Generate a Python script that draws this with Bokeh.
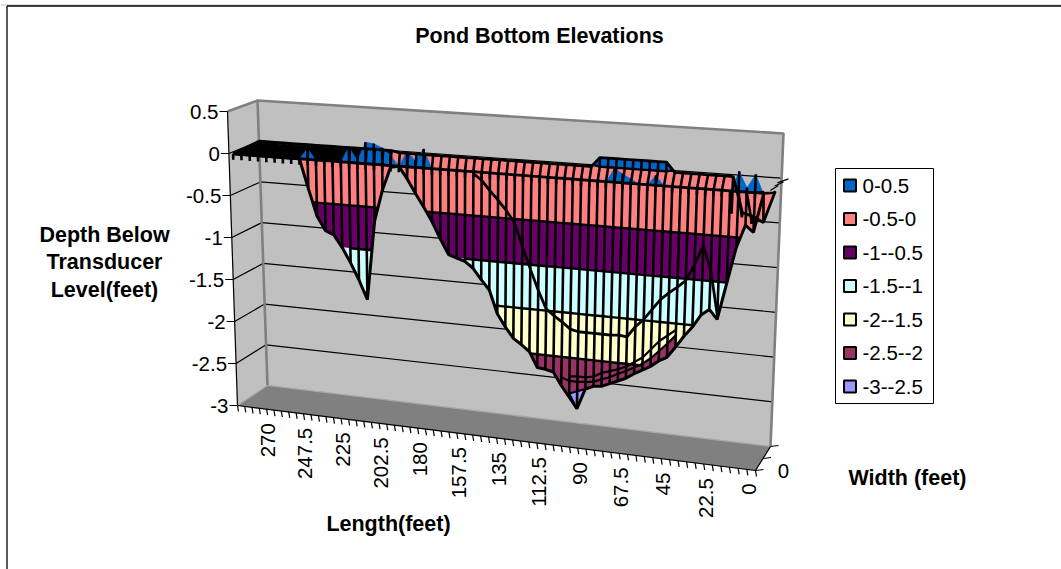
import math
from bokeh.plotting import figure
from bokeh.models import Range1d, ColumnDataSource
from bokeh.core.properties import value
from bokeh.embed import file_html
from bokeh.resources import INLINE

N = float("nan")
title = "Pond Bottom Elevations"
y_title = ["Depth Below", "Transducer", "Level(feet)"]
x_title = "Length(feet)"
z_title = "Width (feet)"
band_names = ["0-0.5", "-0.5-0", "-1--0.5", "-1.5--1", "-2--1.5", "-2.5--2", "-3--2.5"]
band_low = [0, -0.5, -1, -1.5, -2, -2.5, -3]
band_colors = ["#0066CC", "#FF8080", "#660066", "#CCFFFF", "#FFFFCC", "#993366", "#9999FF"]
depth_ticks = [0.5, 0, -0.5, -1, -1.5, -2, -2.5, -3]
length_labels = ["270", "247.5", "225", "202.5", "180", "157.5", "135", "112.5", "90", "67.5", "45", "22.5", "0"]
length_label_values = [270, 247.5, 225, 202.5, 180, 157.5, 135, 112.5, 90, 67.5, 45, 22.5, 0]

lengths = [288, 283.5, 279, 274.5, 270, 265.5, 261, 256.5, 252, 247.5, 243, 238.5, 234, 229.5, 225, 220.5,
           216, 211.5, 207, 202.5, 198, 193.5, 189, 184.5, 180, 175.5, 171, 166.5, 162, 157.5, 153, 148.5,
           144, 139.5, 135, 130.5, 126, 121.5, 117, 112.5, 108, 103.5, 99, 94.5, 90, 85.5, 81, 76.5,
           72, 67.5, 63, 58.5, 54, 49.5, 45, 40.5, 36, 31.5, 27, 22.5, 18, 13.5, 9, 4.5, 0]

depth_far = [0, 0, 0, 0, 0, 0, 0, 0, 0, 0, 0, 0, 0, 0, 0, 0, 0, 0, 0, 0,
             -.02, -.02, -.02, -.02, -.02, -.02, -.02, -.02, -.02, -.02, -.02, -.02, -.02, -.02, -.02, -.02,
             -.02, -.02, -.02, -.02, -.02, -.02, -.02, -.02, .09, .09, .09, .09, .09, .09, .09, .09, .09,
             -.02, -.02, -.02, -.02, -.02, -.02, -.02, -.02, -.42, -.45, -.51, -.15]
depth_far2 = [0, 0, 0, 0, 0, 0, 0, 0, 0, 0, 0, 0, 0, 0, 0, 0, 0, 0, 0, 0,
              -.02, -.02, -.02, -.02, -.02, -.02, -.02, -.02, -.02, -.02, -.02, -.02, -.02, -.02, -.02, -.02,
              -.02, -.02, -.02, -.02, -.02, -.02, -.02, -.02, -.02, -.02, -.02, -.02, -.02, -.02, -.02, -.02,
              -.02, -.02, -.02, -.02, -.02, -.02, -.02, -.02, -.42, -.45, -.51, -.15, -.15]
depth_rim = [0, 0, 0, 0, 0, 0, 0, 0, 0, .13, 0, 0, 0, 0, .18, .03, .25, .24, .2, .12,
             0, .18, .08, .22, 0, 0, 0, 0, 0, 0, 0, 0, 0, 0, 0, 0,
             0, 0, 0, 0, 0, 0, 0, 0, 0, 0, .15, .10, .05, 0, 0, .11,
             0, 0, 0, 0, 0, 0, 0, 0, 0, .22, .05, .2, 0]
depth_trough = [0, 0, 0, 0, 0, 0, 0, 0, 0, -.34, -.66, -.82, -.86, -1.0, -1.17, -1.36, -1.58, -.66, -.29, -.02,
                0, -.14, -.30, -.45, -.61, -.80, -.97, -1.0, -1.03, -1.10, -1.22, -1.33, -1.59, -1.73, -1.85, -1.91,
                -1.98, -2.15, -2.16, -2.18, -2.32, -2.44, -2.56, -2.33, -2.29, -2.28, -2.24, -2.20, -2.16, -2.10, -2.05, -2.0,
                -1.93, -1.88, -1.76, -1.63, -1.52, -1.38, -1.31, -1.41, -1.01, -.61, -.36, -.43, -.02]
depth_inner = [N, N, N, N, N, N, N, N, N, N, N, N, N, N, N, N, N, N, N, N,
               N, N, N, N, N, N, N, N, N, -.02, -.09, -.20, -.30, -.41, -.54, -.80,
               -1.05, -1.28, -1.48, -1.55, -1.61, -1.68, -1.70, -1.70, -1.70, -1.70, -1.70, -1.69, -1.70, -1.58, -1.49, -1.37,
               -1.25, -1.17, -1.10, -1.02, -.84, -.62, -.88, -1.36, N, N, N, N, N]
depth_mesh_a = [N, N, N, N, N, N, N, N, N, N, N, N, N, N, N, N, N, N, N, N,
                N, N, N, N, N, N, N, N, N, N, N, N, N, N, N, N,
                N, N, N, N, -2.23, -2.26, -2.26, -2.25, -2.24, -2.20, -2.17, -2.12, -2.08, -2.03, -1.98, -1.91,
                -1.82, -1.73, -1.63, N, N, N, N, N, N, N, N, N, N]
depth_mesh_b = [N, N, N, N, N, N, N, N, N, N, N, N, N, N, N, N, N, N, N, N,
                N, N, N, N, N, N, N, N, N, N, N, N, N, N, N, N,
                N, N, N, N, N, -2.21, -2.20, -2.20, -2.18, -2.13, -2.10, -2.07, -2.03, -1.97, -1.91, -1.81,
                -1.71, -1.64, -1.57, N, N, N, N, N, N, N, N, N, N]
tip_lengths = [103.5, 99, 94.5]
tip_depths = [-2.40, -2.56, -2.33]
row_far, row_far2, row_rim = 1.0, 0.9, 0.0

C = {(0, 0, 0): (237, 405), (1, 0, 0): (755, 470), (0, 1, 0): (267, 385), (1, 1, 0): (770, 446),
     (0, 0, 1): (227, 111), (1, 0, 1): (769, 147), (0, 1, 1): (257, 100), (1, 1, 1): (783, 133)}
NCOL = len(lengths)


def box(u, v, h):
    x = y = 0.0
    for (a, b, c), (px, py) in C.items():
        w = (u if a else 1 - u) * (v if b else 1 - v) * (h if c else 1 - h)
        x += w * px
        y += w * py
    return x, y


def proj(L, v, z):
    # rows deeper in the box keep the screen column of the rim, as the stripes do in the picture
    u = (288 + 2.25 - L) / (NCOL * 4.5)
    if v > 0:
        target = 228.4 + 538.6 * u + max(0.0, u - 0.93) * 150
        uf = max(0.0, (target - 258) / 520)
        u = u + (uf - u) * v
    return box(u, v, (z + 3) / 3.5)


def axis_u(t):
    # the length axis gets slightly longer steps towards the viewer
    return t - 0.092 * t * (1 - t)


def clip(poly, level, keep_above):
    out = []
    n = len(poly)
    for k in range(n):
        a, b = poly[k], poly[(k + 1) % n]
        ia = a[2] >= level if keep_above else a[2] <= level
        ib = b[2] >= level if keep_above else b[2] <= level
        if ia:
            out.append(a)
        if ia != ib:
            t = (level - a[2]) / (b[2] - a[2])
            out.append(tuple(a[j] + t * (b[j] - a[j]) for j in range(3)))
    return out


p = figure(width=1061, height=569, output_backend="svg", toolbar_location=None,
           x_range=Range1d(0, 1061), y_range=Range1d(569, 0),
           x_axis_location=None, y_axis_location=None, min_border=0,
           outline_line_color=None)
p.grid.visible = False
p.background_fill_color = "white"

FONT = value("Liberation Sans")


def label(x, y, txt, size="20.5px", bold=False, align="center", base="middle", angle=0.0):
    p.text([x], [y], text=[txt], text_font=FONT, text_font_size="21.5px" if bold else size,
           text_font_style="bold" if bold else "normal", text_align=align,
           text_baseline=base, text_color="black", angle=angle)


# frame
p.line([0, 1061], [4.5, 4.5], line_color="#c0c0c0", line_width=1)
p.line([6.5, 1061], [5.5, 5.5], line_color="black", line_width=1.3)
p.line([6.5, 6.5], [5.5, 569], line_color="black", line_width=1.3)


def corner(a, b, c):
    return C[(a, b, c)]


def face(pts, color):
    p.patch([q[0] for q in pts], [q[1] for q in pts], fill_color=color, line_color=color, line_width=0.5)


face([corner(0, 0, 0), corner(0, 1, 0), corner(0, 1, 1), corner(0, 0, 1)], "#C0C0C0")
face([corner(0, 1, 0), corner(1, 1, 0), corner(1, 1, 1), corner(0, 1, 1)], "#C0C0C0")
face([corner(0, 0, 0), corner(1, 0, 0), corner(1, 1, 0), corner(0, 1, 0)], "#808080")

for z in depth_ticks[1:-1]:
    h = (z + 3) / 3.5
    pts = [box(0, 0, h), box(0, 1, h), box(1, 1, h)]
    p.line([q[0] for q in pts], [q[1] for q in pts], line_color="black", line_width=1.2)

for seg in ([corner(0, 0, 1), corner(0, 1, 1), corner(1, 1, 1), corner(1, 1, 0)], [corner(0, 1, 1), corner(0, 1, 0)]):
    p.line([q[0] for q in seg], [q[1] for q in seg], line_color="#808080", line_width=2.6)
for seg in ([corner(0, 0, 0), corner(0, 1, 0), corner(1, 1, 0)],):
    p.line([q[0] for q in seg], [q[1] for q in seg], line_color="#A8A8A8", line_width=1.2)

p.line(*zip(corner(0, 0, 1), corner(0, 0, 0)), line_color="black", line_width=1.2)
p.line(*zip(corner(0, 0, 0), corner(1, 0, 0)), line_color="black", line_width=1.2)
p.line(*zip(corner(1, 0, 0), corner(1, 1, 0)), line_color="black", line_width=1.2)
for z in depth_ticks:
    x, y = box(0, 0, (z + 3) / 3.5)
    p.line([x - 8, x], [y, y], line_color="black", line_width=1.2)
    label(x - 9, y, str(z) if z != int(z) else str(int(z)), align="right")
for k in range(NCOL + 1):
    x, y = box(axis_u(k / NCOL), 0, 0)
    p.line([x, x + 1], [y, y + 6], line_color="black", line_width=1.2)
for txt, L in zip(length_labels, length_label_values):
    x, y = box(axis_u((288 + 2.25 - L) / (NCOL * 4.5)), 0, 0)
    label(x - 2, y + 13.5, txt, align="right", angle=math.pi / 2)
for v in (0, .5, 1):
    x, y = box(1, v, 0)
    p.line([x, x + 8], [y, y - 1], line_color="black", line_width=1.2)
label(783, 470, "0")

polys_x, polys_y, polys_c = [], [], []
lines_x, lines_y = [], []


def strip(r0, v0, r1, v1):
    for i in range(NCOL - 1):
        quad = [(lengths[i], v0, r0[i]), (lengths[i + 1], v0, r0[i + 1]),
                (lengths[i + 1], v1, r1[i + 1]), (lengths[i], v1, r1[i])]
        zs = [q[2] for q in quad]
        if all(z == 0 for z in zs):
            pts = [proj(*q) for q in quad]
            polys_x.append([q[0] for q in pts])
            polys_y.append([q[1] for q in pts])
            polys_c.append("black")
            continue
        for lo, col in zip(band_low, band_colors):
            poly = clip(clip(quad, lo, True), lo + 0.5, False)
            if len(poly) < 3:
                continue
            pts = [proj(*q) for q in poly]
            polys_x.append([q[0] for q in pts])
            polys_y.append([q[1] for q in pts])
            polys_c.append(col)
        for lev in band_low:
            cross = []
            for k in range(4):
                a, b = quad[k], quad[(k + 1) % 4]
                if (a[2] - lev) * (b[2] - lev) < 0:
                    t = (lev - a[2]) / (b[2] - a[2])
                    cross.append(proj(*[a[j] + t * (b[j] - a[j]) for j in range(3)]))
            if len(cross) == 2:
                lines_x.append([cross[0][0], cross[1][0]])
                lines_y.append([cross[0][1], cross[1][1]])


rim_level = [min(z, 0) for z in depth_rim]
strip(depth_far, row_far, depth_far2, row_far2)
strip(depth_far2, row_far2, rim_level, row_rim)
strip(depth_rim, row_rim, depth_trough, row_rim)

# the mesh under the inner line reaches the lower band where the surface folds
for i in range(NCOL - 1):
    if all(z == z for z in (depth_mesh_a[i], depth_mesh_a[i + 1])) and depth_trough[i] > -2.1:
        pts = [proj(lengths[i], row_rim, depth_mesh_a[i]), proj(lengths[i + 1], row_rim, depth_mesh_a[i + 1]),
               proj(lengths[i + 1], row_rim, depth_trough[i + 1]), proj(lengths[i], row_rim, depth_trough[i])]
        polys_x.append([q[0] for q in pts])
        polys_y.append([q[1] for q in pts])
        polys_c.append(band_colors[5])

p.patches("x", "y", fill_color="c", line_color="c", line_width=0.4,
          source=ColumnDataSource(dict(x=polys_x, y=polys_y, c=polys_c)))
p.multi_line(lines_x, lines_y, line_color="black", line_width=2.4)

tip = [proj(L, row_rim, z) for L, z in zip(tip_lengths, tip_depths)]
p.patch([q[0] for q in tip], [q[1] for q in tip], fill_color=band_colors[6], line_color="black", line_width=2)

sx, sy = [], []
for i, L in enumerate(lengths):
    chain = [proj(L, row_far, depth_far[i]), proj(L, row_far2, depth_far2[i]),
             proj(L, row_rim, rim_level[i]), proj(L, row_rim, depth_trough[i])]
    sx.append([q[0] for q in chain])
    sy.append([q[1] for q in chain])
    a = proj(L, row_rim, depth_rim[i])
    b = proj(L, row_rim, min(depth_rim[i], 0) - 0.07)
    sx.append([a[0], b[0]])
    sy.append([a[1], b[1]])
p.multi_line(sx, sy, line_color="black", line_width=2.6)

for row, v, w in ((depth_far, row_far, 2.8), (rim_level, row_rim, 2.8), (depth_trough, row_rim, 3.0),
                  (depth_inner, row_rim, 2.8), (depth_mesh_a, row_rim, 2.2), (depth_mesh_b, row_rim, 2.2)):
    pts = [proj(L, v, z) for L, z in zip(lengths, row)]
    p.line([q[0] for q in pts], [q[1] for q in pts], line_color="black", line_width=w)

for v, dx, dy in ((.7, 11, -4), (.5, 9, -4), (.2, 8, -5)):
    x, y = box(1, v, 3 / 3.5)
    p.line([x, x + dx], [y, y + dy], line_color="black", line_width=1.2)

label(539, 35, title, bold=True)
for txt, yy in zip(y_title, (234, 261, 289)):
    label(104, yy, txt, bold=True)
label(388, 523, x_title, bold=True)
label(907, 477, z_title, bold=True)

p.patch([835, 933, 933, 835], [168, 168, 403, 403], fill_color="white", line_color="black", line_width=1)
for k, (name, col) in enumerate(zip(band_names, band_colors)):
    yc = 185 + k * 33.5
    p.patch([843.5, 855.5, 855.5, 843.5], [yc - 6, yc - 6, yc + 6, yc + 6], fill_color=col,
            line_color="black", line_width=2)
    label(862, yc, name, align="left")

open("out.html", "w").write(file_html(p, INLINE))
